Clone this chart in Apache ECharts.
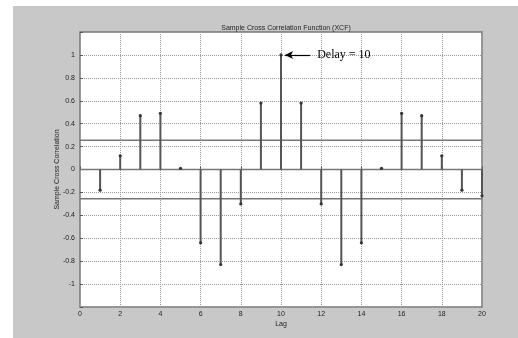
<!DOCTYPE html>
<html><head><meta charset="utf-8">
<script src="https://cdn.jsdelivr.net/npm/echarts@6/dist/echarts.min.js"></script>
<style>html,body{margin:0;padding:0;background:#fff}#c{width:518px;height:338px}</style>
</head><body><div id="c"></div>
<script>
const lags = [1,2,3,4,5,6,7,8,9,10,11,12,13,14,15,16,17,18,19,20];
const xcf = [-0.18,0.12,0.47,0.49,0.01,-0.64,-0.83,-0.30,0.58,1.00,0.58,-0.30,-0.83,-0.64,0.01,0.49,0.47,0.12,-0.18,-0.23];
const confBound = 0.255;
const xRange = [0,20];
const yRange = [-1.2,1.2];
const titleText = 'Sample Cross Correlation Function (XCF)';
const xName = 'Lag';
const yName = 'Sample Cross Correlation';
const annotText = 'Delay = 10';
const peakLag = 10, peakVal = 1.0;

const chart = echarts.init(document.getElementById('c'), null, {renderer:'canvas'});
const stemData = lags.map((l,i)=>[l,xcf[i]]);
const fontS = 'Liberation Sans';
chart.setOption({
  animation:false,
  backgroundColor:'#ffffff',
  graphic:[{type:'rect',z:-10,shape:{x:13,y:6,width:505,height:332},style:{fill:'#c8c8c8'}}],
  title:{text:titleText,left:281,top:20,textAlign:'center',textStyle:{fontSize:7,fontWeight:'normal',color:'#222',fontFamily:fontS}},
  grid:{left:80,top:32,width:402,height:275,show:true,backgroundColor:'#fff',borderColor:'#777',borderWidth:1.5},
  xAxis:{type:'value',min:xRange[0],max:xRange[1],interval:2,
    name:xName,nameLocation:'middle',nameGap:14,nameMoveOverlap:false,nameTextStyle:{fontSize:7,color:'#222',fontFamily:fontS},
    axisLine:{show:false},axisTick:{inside:true,length:3,lineStyle:{color:'#555'}},
    axisLabel:{fontSize:7,color:'#222',margin:4,fontFamily:fontS},
    splitLine:{show:true,lineStyle:{type:'dotted',color:'#999',width:1}}},
  yAxis:{type:'value',min:yRange[0],max:yRange[1],interval:0.2,
    name:yName,nameLocation:'middle',nameGap:19,nameMoveOverlap:false,nameTextStyle:{fontSize:7,color:'#222',fontFamily:fontS},
    axisLine:{show:false},axisTick:{inside:true,length:3,lineStyle:{color:'#555'}},
    axisLabel:{fontSize:7,color:'#222',margin:5,fontFamily:fontS,
      formatter:v=>{const r=Math.round(v*10)/10; if(Math.abs(r)>1.05) return ''; return String(r);}},
    splitLine:{show:true,lineStyle:{type:'dotted',color:'#999',width:1}}},
  series:[
    {type:'line',data:[[xRange[0],0],[xRange[1],0]],symbol:'none',lineStyle:{color:'#777',width:1.5},z:3},
    {type:'line',data:[[xRange[0],confBound],[xRange[1],confBound]],symbol:'none',lineStyle:{color:'#777',width:1.5},z:3},
    {type:'line',data:[[xRange[0],-confBound],[xRange[1],-confBound]],symbol:'none',lineStyle:{color:'#777',width:1.5},z:3},
    {type:'custom',z:5,data:stemData,renderItem:(params,api)=>{
      const x=api.value(0), y=api.value(1);
      const p0=api.coord([x,0]), p1=api.coord([x,y]);
      return {type:'group',children:[
        {type:'line',shape:{x1:p0[0],y1:p0[1],x2:p1[0],y2:p1[1]},style:{stroke:'#555',lineWidth:2}},
        {type:'circle',shape:{cx:p1[0],cy:p1[1],r:1.6},style:{fill:'#333'}}
      ]};
    }},
    {type:'line',data:[],z:6,markLine:{silent:true,symbol:['arrow','none'],symbolSize:[6,8],
      lineStyle:{color:'#000',width:1.2,type:'solid'},
      label:{show:true,position:'end',distance:7,formatter:annotText,fontFamily:'Liberation Serif',fontSize:12,color:'#000'},
      data:[[{coord:[peakLag+0.2,peakVal]},{coord:[peakLag+1.45,peakVal]}]]}}
  ]
});
</script></body></html>
